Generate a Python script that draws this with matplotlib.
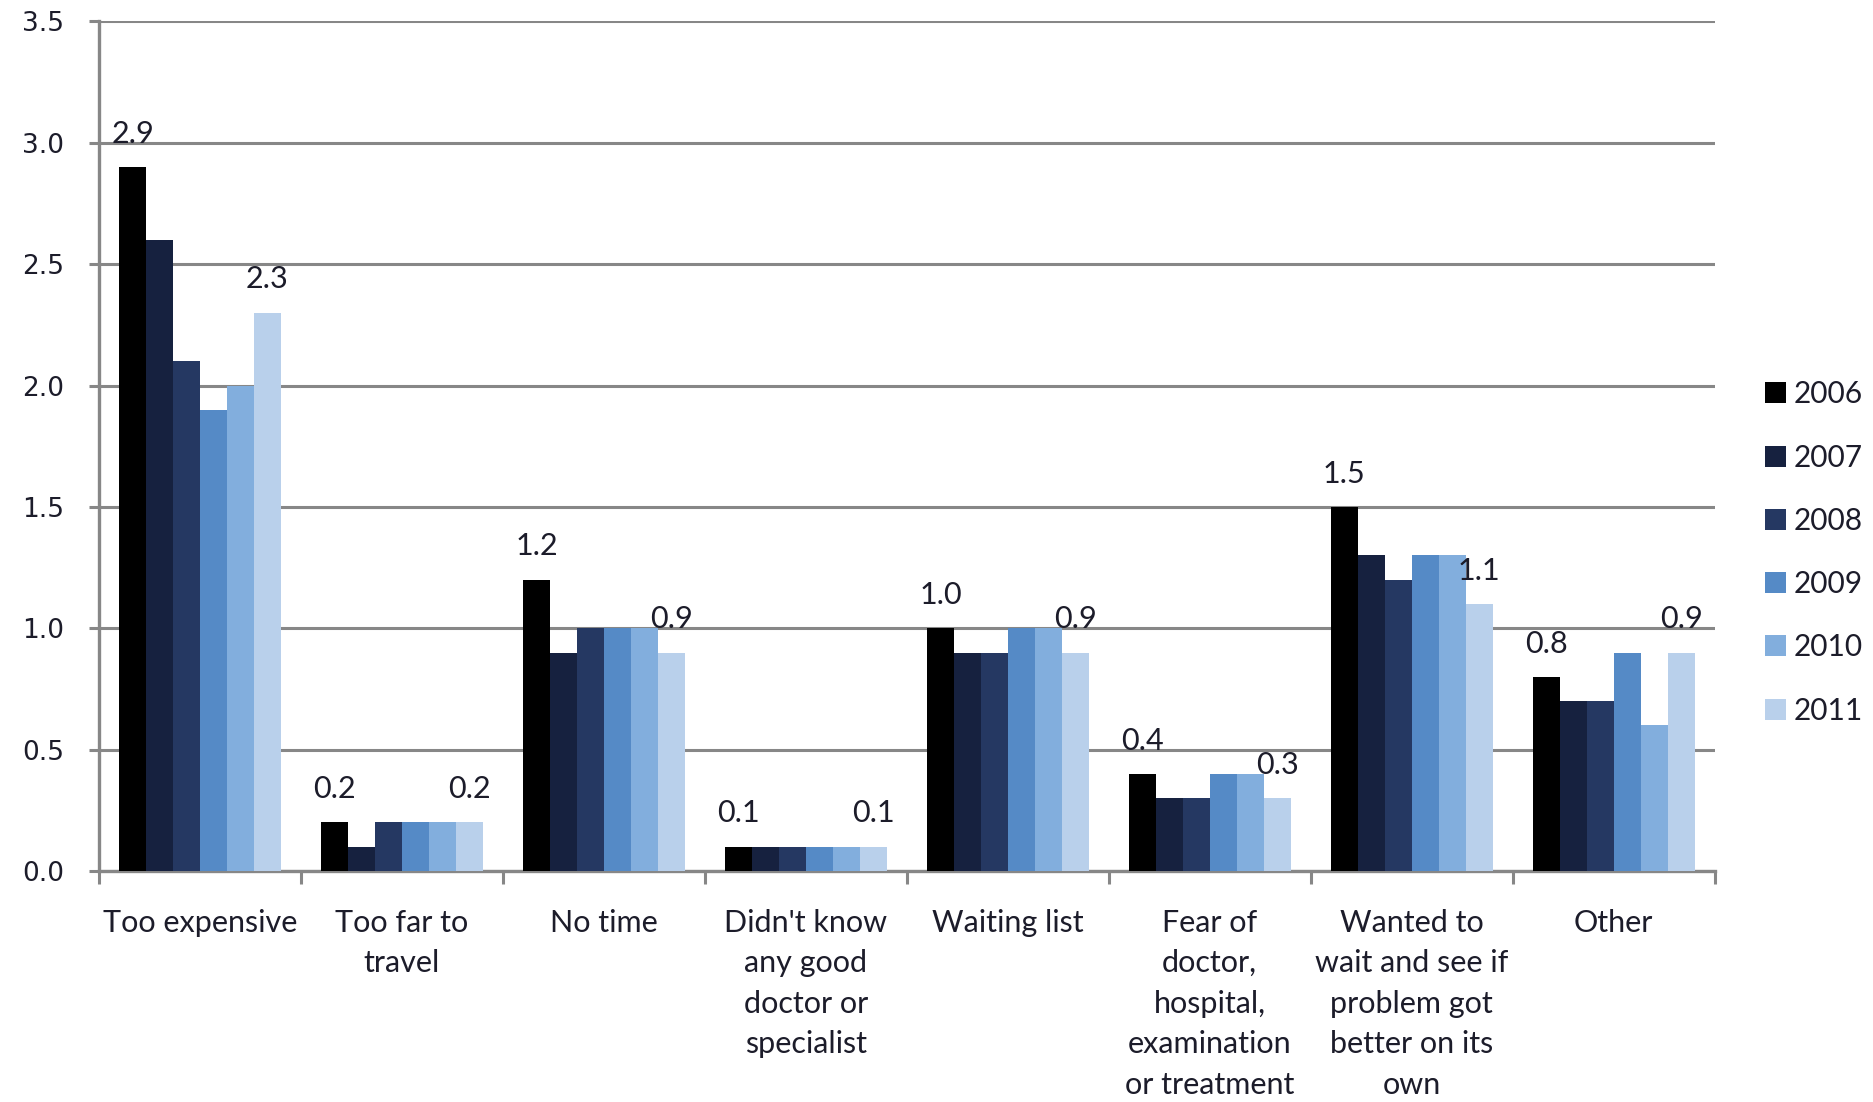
import matplotlib
matplotlib.use("Agg")
import matplotlib.pyplot as plt
import numpy as np

# Reasons for unmet medical need, share of respondents by year
categories = [
    "Too expensive",
    "Too far to\ntravel",
    "No time",
    "Didn't know\nany good\ndoctor or\nspecialist",
    "Waiting list",
    "Fear of\ndoctor,\nhospital,\nexamination\nor treatment",
    "Wanted to\nwait and see if\nproblem got\nbetter on its\nown",
    "Other",
]
years = ["2006", "2007", "2008", "2009", "2010", "2011"]

v2006 = [2.9, 0.2, 1.2, 0.1, 1.0, 0.4, 1.5, 0.8]
v2007 = [2.6, 0.1, 0.9, 0.1, 0.9, 0.3, 1.3, 0.7]
v2008 = [2.1, 0.2, 1.0, 0.1, 0.9, 0.3, 1.2, 0.7]
v2009 = [1.9, 0.2, 1.0, 0.1, 1.0, 0.4, 1.3, 0.9]
v2010 = [2.0, 0.2, 1.0, 0.1, 1.0, 0.4, 1.3, 0.6]
v2011 = [2.3, 0.2, 0.9, 0.1, 0.9, 0.3, 1.1, 0.9]
series = [v2006, v2007, v2008, v2009, v2010, v2011]

colors = ["#000000", "#16213F", "#253862", "#558AC6", "#82AEDD", "#B9D0EB"]
grid_col = "#878787"
text_col = "#1C1C2A"
label_font = ["Lato", "DejaVu Sans"]

fig = plt.figure(figsize=(18.74, 11.02), dpi=100)
ax = fig.add_axes([0.0528, 0.2096, 0.8622, 0.7709])

x = np.arange(len(categories))
n = len(series)
group_w = 0.8
bw = group_w / n

for i, (vals, c, yr) in enumerate(zip(series, colors, years)):
    pos = x - group_w / 2 + bw * (i + 0.5)
    bars = ax.bar(pos, vals, width=bw, color=c, label=yr, zorder=3, linewidth=0)
    # only the first and last year carry value labels
    if i in (0, n - 1):
        for b, v in zip(bars, vals):
            ax.text(b.get_x() + b.get_width() / 2, v + 0.1, f"{v:.1f}",
                    ha="center", va="baseline", fontsize=22, color=text_col,
                    family=label_font, zorder=4)

ax.set_xlim(-0.5, len(categories) - 0.5)
ax.set_ylim(0, 3.5)
ax.set_yticks(np.arange(0, 3.51, 0.5))
ax.set_yticklabels([f"{t:.1f}" for t in np.arange(0, 3.51, 0.5)],
                   fontsize=19, color=text_col, family="DejaVu Sans")

ax.set_xticks(x)
ax.set_xticklabels(categories, fontsize=22, color=text_col, family=label_font,
                   linespacing=1.55, va="top")
ax.set_xticks(np.arange(-0.5, len(categories), 1), minor=True)
ax.tick_params(axis="x", which="major", length=0, pad=27)
ax.tick_params(axis="x", which="minor", length=9, width=2.2, color=grid_col)
ax.tick_params(axis="y", length=7, width=2.2, color=grid_col, pad=18)

ax.yaxis.grid(True, color=grid_col, linewidth=2.2, zorder=0)
ax.set_axisbelow(True)
for s in ("top", "right"):
    ax.spines[s].set_visible(False)
for s in ("left", "bottom"):
    ax.spines[s].set_color(grid_col)
    ax.spines[s].set_linewidth(2.4)

leg = ax.legend(loc="center left", bbox_to_anchor=(1.024, 0.375), frameon=False,
                fontsize=21.5, handlelength=0.7, handleheight=0.7,
                handletextpad=0.25, labelspacing=1.18, borderaxespad=0)
for t in leg.get_texts():
    t.set_color(text_col)
    t.set_family(label_font)

fig.savefig("out.png", dpi=100)
